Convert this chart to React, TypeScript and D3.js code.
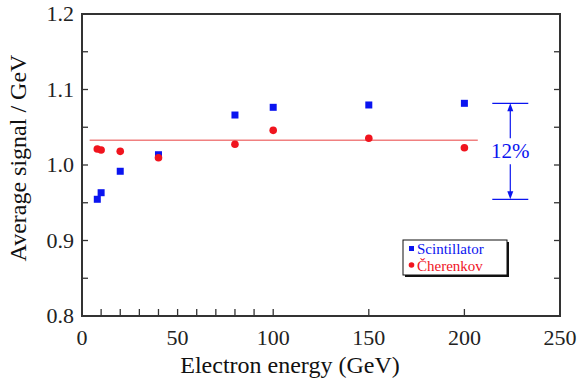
import React from 'react';
import * as d3 from 'd3';

// beam energies (GeV)
const energies = [8, 10, 20, 40, 80, 100, 150, 200];
const scintillator = [0.9546, 0.9633, 0.9917, 1.0136, 1.0662, 1.0764, 1.0795, 1.0817];
const cherenkov = [1.0212, 1.0199, 1.0181, 1.0097, 1.0274, 1.0459, 1.0354, 1.0229];
const cherenkovMean = 1.0327;
const meanRange = [4, 207];
const xTickLabels = [0, 50, 100, 150, 200, 250];
const xMinorTicks = [10, 20, 30, 40, 50, 60, 70, 80, 90, 100, 150, 200];
const yTickLabels = [0.8, 0.9, 1.0, 1.1, 1.2];
const yMinorTicks = [0.85, 0.9, 0.95, 1.0, 1.05, 1.1, 1.15];
const spreadX = 224;
const spreadLabel = '12%';
const legendLabels = ['Scintillator', 'Čherenkov'];

const BLUE = '#0a14f0';
const RED = '#f0141e';
const serif = { fontFamily: '"Liberation Serif", "DejaVu Serif", "Noto Serif", serif' };

const margin = { top: 14, right: 18, bottom: 68, left: 82 };
const W = 578;
const H = 384;
const width = W - margin.left - margin.right;
const height = H - margin.top - margin.bottom;

const App = () => {
  const x = d3.scaleLinear().domain([0, 250]).range([0, width]);
  const y = d3.scaleLinear().domain([0.8, 1.2]).range([height, 0]);

  const sMax = d3.max(scintillator) as number;
  const sMin = d3.min(scintillator) as number;
  const ax = x(spreadX);
  const mid = (y(sMax) + y(sMin)) / 2;

  return (
    <svg width={W} height={H} style={{ position: 'absolute', left: 0, top: 0 }}>
      <rect width={W} height={H} fill="#fff" />
      <g transform={`translate(${margin.left},${margin.top})`}>
        {/* cherenkov mean line */}
        <line
          x1={x(meanRange[0])}
          x2={x(meanRange[1])}
          y1={y(cherenkovMean)}
          y2={y(cherenkovMean)}
          stroke="#f08080"
          strokeWidth={1.5}
        />
        {energies.map((e, i) => (
          <rect key={'s' + e} x={x(e) - 3.5} y={y(scintillator[i]) - 3.5} width={7} height={7} fill={BLUE} />
        ))}
        {energies.map((e, i) => (
          <circle key={'c' + e} cx={x(e)} cy={y(cherenkov[i])} r={3.8} fill={RED} />
        ))}

        {/* frame */}
        <rect width={width} height={height} fill="none" stroke="#333" strokeWidth={2} />
        {xMinorTicks.map((t) => (
          <line key={'xt' + t} x1={x(t)} x2={x(t)} y1={height} y2={height - 7} stroke="#333" strokeWidth={1.3} />
        ))}
        {yMinorTicks.map((t) => (
          <g key={'yt' + t}>
            <line x1={0} x2={6} y1={y(t)} y2={y(t)} stroke="#333" strokeWidth={1.3} />
            <line x1={width} x2={width - 6} y1={y(t)} y2={y(t)} stroke="#333" strokeWidth={1.3} />
          </g>
        ))}
        {xTickLabels.map((t) => (
          <text key={'xl' + t} x={x(t)} y={height + 29} textAnchor="middle" fontSize={22} fill="#222" style={serif}>
            {t}
          </text>
        ))}
        {yTickLabels.map((t) => (
          <text key={'yl' + t} x={-8} y={y(t) + 7} textAnchor="end" fontSize={22} fill="#222" style={serif}>
            {d3.format('.1f')(t)}
          </text>
        ))}

        {/* 12% spread marker */}
        <g stroke={BLUE} fill={BLUE} strokeWidth={1.2}>
          {[sMax, sMin].map((v) => (
            <line key={'h' + v} x1={ax - 18} x2={ax + 18} y1={y(v)} y2={y(v)} />
          ))}
          <line x1={ax} x2={ax} y1={y(sMax) + 6} y2={mid - 13} />
          <line x1={ax} x2={ax} y1={mid + 13} y2={y(sMin) - 6} />
          <path d={`M${ax},${y(sMax)} l-3,8 l6,0 Z`} stroke="none" />
          <path d={`M${ax},${y(sMin)} l-3,-8 l6,0 Z`} stroke="none" />
        </g>
        <text x={ax} y={mid + 7} textAnchor="middle" fontSize={21} fill={BLUE} style={serif}>
          {spreadLabel}
        </text>
      </g>

      {/* axis titles */}
      <text x={290} y={373} textAnchor="middle" fontSize={24} fill="#111" style={serif}>
        Electron energy (GeV)
      </text>
      <text transform="translate(26,158) rotate(-90)" textAnchor="middle" fontSize={24} fill="#111" style={serif}>
        Average signal / GeV
      </text>

      {/* legend */}
      <g transform="translate(403,240)">
        <rect x={2} y={2} width={104} height={35} fill="#111" />
        <rect width={104} height={35} fill="#fff" stroke="#111" strokeWidth={1} />
        <rect x={6} y={6} width={5} height={5} fill={BLUE} />
        <circle cx={8.5} cy={25} r={2.8} fill={RED} />
        {legendLabels.map((t, i) => (
          <text key={t} x={14} y={14 + i * 17} fontSize={15} fill={i === 0 ? BLUE : RED} style={serif}>
            {t}
          </text>
        ))}
      </g>
    </svg>
  );
};

export default App;
